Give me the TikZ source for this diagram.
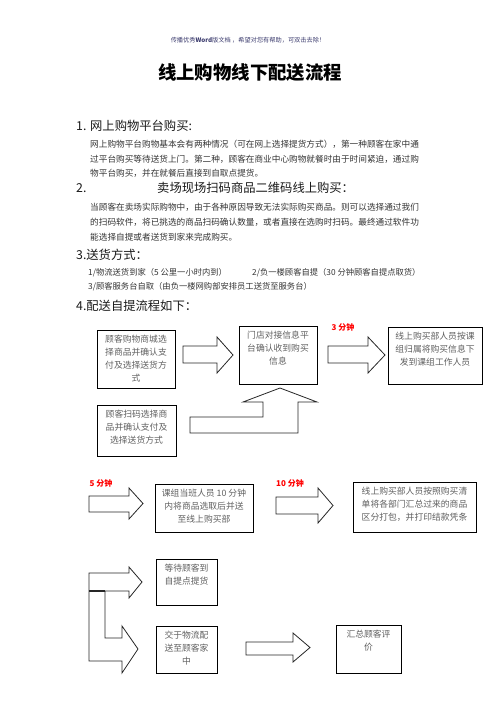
\documentclass[tikz,border=0pt]{standalone}
\usepackage{fontspec}
\setmainfont{Noto Sans CJK SC}
\definecolor{hdrblue}{RGB}{60,60,110}
\definecolor{txtgray}{RGB}{95,95,95}
\begin{document}
\begin{tikzpicture}[x=1pt,y=-1pt,
  box/.style={draw=black, line width=0.9pt, inner sep=0pt},
  btxt/.style={anchor=north, align=center, inner sep=0pt, text=txtgray, font=\fontsize{8.8}{13}\selectfont},
  para/.style={anchor=west, inner sep=0pt, text=black!80, font=\fontsize{8.65}{10}\selectfont},
  headtxt/.style={anchor=west, inner sep=0pt, text=black!90, font=\fontsize{12.3}{14}\selectfont},
  blk/.style={draw=black!85, line width=0.8pt, fill=white, line join=miter},
  redlbl/.style={inner sep=0pt, text=red, font=\bfseries\fontsize{8}{10}\selectfont}]
\useasboundingbox (0,0) rectangle (496,702);
% header and title
\node[inner sep=0pt, text=hdrblue, font=\fontsize{6.2}{8}\selectfont] (hdr) at (248,40) {传播优秀\textbf{Word}版文档 ，希望对您有帮助，可双击去除！};
\node[inner sep=0pt, font=\bfseries\fontsize{18.4}{20}\selectfont] (title) at (250,73) {线上购物线下配送流程};
% section 1
\node[headtxt] (h1) at (76,126) {\makebox[14pt][l]{1.}网上购物平台购买:};
\node[para] (p1a) at (90,144) {网上购物平台购物基本会有两种情况（可在网上选择提货方式），第一种顾客在家中通};
\node[para] (p1b) at (90,159) {过平台购买等待送货上门。第二种，顾客在商业中心购物就餐时由于时间紧迫，通过购};
\node[para] (p1c) at (90,173) {物平台购买，并在就餐后直接到自取点提货。};
% section 2
\node[headtxt] (h2n) at (76,188) {2.};
\node[headtxt] (h2) at (157,188) {卖场现场扫码商品二维码线上购买：};
\node[para] (p2a) at (90,207) {当顾客在卖场实际购物中，由于各种原因导致无法实际购买商品。则可以选择通过我们};
\node[para] (p2b) at (90,222) {的扫码软件，将已挑选的商品扫码确认数量，或者直接在选购时扫码。最终通过软件功};
\node[para] (p2c) at (90,237) {能选择自提或者送货到家来完成购买。};
% section 3
\node[headtxt] (h3) at (76,255) {3.送货方式：};
\node[para, font=\fontsize{8.3}{10}\selectfont] (p3a) at (88,273) {1/物流送货到家（5 公里一小时内到）};
\node[para, font=\fontsize{8.3}{10}\selectfont] (p3b) at (252,273) {2/负一楼顾客自提（30 分钟顾客自提点取货）};
\node[para, font=\fontsize{8.3}{10}\selectfont] (p3c) at (88,287) {3/顾客服务台自取（由负一楼网购部安排员工送货至服务台）};
% section 4
\node[headtxt] (h4) at (76,306) {4.配送自提流程如下：};

% block arrows
\draw[blk] (183,346) -- (217,346) -- (217,337) -- (233,355) -- (217,373) -- (217,363) -- (183,363) -- cycle;
\draw[blk] (328,346) -- (368,346) -- (368,337) -- (385,355) -- (368,373) -- (368,363) -- (328,363) -- cycle;
\draw[blk] (190,417) -- (263,417) -- (263,402) -- (243,402) -- (280,388) -- (317,402) -- (298,402) -- (298,433) -- (190,433) -- cycle;
\draw[blk] (89,496) -- (129,496) -- (129,488) -- (143,503.5) -- (129,519) -- (129,512) -- (89,512) -- cycle;
\draw[blk] (276,497) -- (318,497) -- (318,488) -- (333,505.5) -- (318,523) -- (318,514) -- (276,514) -- cycle;
\draw[blk] (89,573) -- (129,573) -- (129,567) -- (142,582) -- (129,598) -- (129,591) -- (105,591) -- (105,638) -- (122,638) -- (122,626) -- (138,649) -- (122,673) -- (122,661) -- (89,661) -- cycle;
\draw[black!85, line width=1.1pt] (89,591) -- (105,591);
\draw[blk] (246,642) -- (293,642) -- (293,633) -- (310,647.5) -- (293,662) -- (293,655) -- (246,655) -- cycle;

% boxes
\node[box, minimum width=78pt, minimum height=58pt] (A) at (136,359) {};
\node[btxt] (At) at ([yshift=-5pt]A.north) {顾客购物商城选\\择商品并确认支\\付及选择送货方\\式};
\node[box, minimum width=78pt, minimum height=58pt] (B) at (278,355) {};
\node[btxt] (Bt) at ([yshift=-5pt]B.north) {门店对接信息平\\台确认收到购买\\信息};
\node[box, minimum width=94pt, minimum height=57pt] (C) at (435,355.5) {};
\node[btxt] (Ct) at ([yshift=-5pt]C.north) {线上购买部人员按课\\组归属将购买信息下\\发到课组工作人员};
\node[box, minimum width=79pt, minimum height=51pt] (D) at (136.5,430.5) {};
\node[btxt] (Dt) at ([yshift=-5pt]D.north) {顾客扫码选择商\\品并确认支付及\\选择送货方式};
\node[box, minimum width=98pt, minimum height=48pt] (E) at (204,508) {};
\node[btxt] (Et) at ([yshift=-5pt]E.north) {课组当班人员 10 分钟\\内将商品选取后并送\\至线上购买部};
\node[box, minimum width=123pt, minimum height=50pt] (F) at (414.5,507) {};
\node[btxt] (Ft) at ([yshift=-5pt]F.north) {线上购买部人员按照购买清\\单将各部门汇总过来的商品\\区分打包，并打印结款凭条};
\node[box, minimum width=61pt, minimum height=46pt] (G) at (186.5,582) {};
\node[btxt] (Gt) at ([yshift=-5pt]G.north) {等待顾客到\\自提点提货};
\node[box, minimum width=61pt, minimum height=47pt] (H) at (186.5,649.5) {};
\node[btxt] (Ht) at ([yshift=-5pt]H.north) {交于物流配\\送至顾客家\\中};
\node[box, minimum width=65pt, minimum height=48pt] (I) at (368.5,649) {};
\node[btxt] (It) at ([yshift=-5pt]I.north) {汇总顾客评\\价};

% red labels
\node[redlbl] (m3) at (343,327) {3 分钟};
\node[redlbl] (m5) at (101,483) {5 分钟};
\node[redlbl] (m10) at (290,483) {10 分钟};
\end{tikzpicture}
\end{document}
